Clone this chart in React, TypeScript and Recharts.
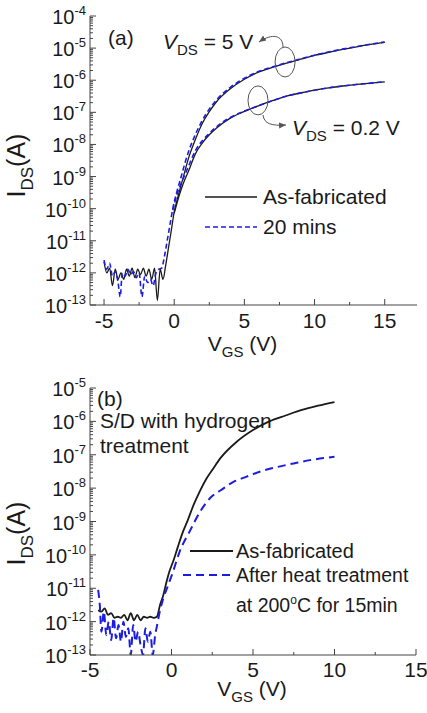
import { LineChart, Line, XAxis, YAxis, ReferenceDot } from 'recharts'

const FONT = '"Liberation Sans", Arial, Helvetica, sans-serif'
const INK = '#1a1a1a'
const FRAME = '#444'
const BLUE = '#1c1ce0'

// ---------- panel (a): V_DS = 5 V and 0.2 V, as-fabricated vs 20 mins ----------
const vgsFab5A = [
  -5, -4.8, -4.6, -4.4, -4.2, -4, -3.8, -3.6, -3.4, -3.2, -3, -2.8, -2.6, -2.4, -2.2, -2, -1.8, -1.6, -1.4, -1.2, -1, -0.8,
  -0.6, -0.4, -0.2, 0, 0.25, 0.5, 0.75, 1, 1.5, 2, 2.5, 3, 4, 5, 6, 7, 8, 9, 10, 11, 12, 13, 14, 15,
]
const idsFab5A = [
  2.2e-12, 1.0e-12, 1.4e-12, 4.0e-13, 1.3e-12, 6.3e-13, 1.0e-12, 6.3e-13, 1.3e-12, 7.9e-13, 1.4e-12, 7.1e-13, 1.3e-12,
  8.9e-13, 1.4e-12, 7.9e-13, 1.3e-12, 6.3e-13, 1.4e-12, 1.4e-13, 1.3e-12, 6.3e-13,
  1.8e-12, 6.3e-12, 2.2e-11, 7.9e-11, 2.2e-10, 5.6e-10, 1.4e-9, 3.5e-9, 1.4e-8, 4.5e-8, 1.05e-7, 2.1e-7, 5.4e-7, 1.07e-6,
  1.78e-6, 2.5e-6, 3.4e-6, 4.5e-6, 5.9e-6, 7.4e-6, 9.1e-6, 1.1e-5, 1.3e-5, 1.5e-5,
]
const vgsFab02A = [0, 0.25, 0.5, 0.75, 1, 1.5, 2, 2.5, 3, 4, 5, 6, 7, 8, 9, 10, 11, 12, 13, 14, 15]
const idsFab02A = [
  7.1e-11, 1.8e-10, 4.0e-10, 7.9e-10, 1.4e-9, 5.0e-9, 1.1e-8, 2.0e-8, 3.2e-8, 6.6e-8, 1.07e-7, 1.6e-7, 2.3e-7, 3.2e-7,
  4.0e-7, 4.9e-7, 5.8e-7, 6.6e-7, 7.4e-7, 8.1e-7, 8.9e-7,
]
const vgs20m5A = [
  -5, -4.8, -4.6, -4.4, -4.2, -4, -3.85, -3.7, -3.5, -3.3, -3.1, -2.9, -2.7, -2.5, -2.3, -2.1, -1.9, -1.7, -1.5, -1.3, -1.1,
  -0.9, -0.7, -0.5, -0.3, -0.1, 0.2, 0.5, 0.75, 1, 1.5, 2, 2.5, 3, 4, 5, 6, 7, 8, 9, 10, 11, 12, 13, 14, 15,
]
const ids20m5A = [
  2.5e-12, 1.3e-12, 2.0e-12, 7.9e-13, 1.1e-12, 5.0e-13, 1.8e-13, 1.0e-12, 7.9e-13, 1.3e-12, 8.9e-13, 1.1e-12, 7.1e-13,
  1.0e-12, 1.8e-13, 7.9e-13, 5.0e-13, 6.3e-13, 4.0e-13, 1.0e-12, 1.3e-12, 1.4e-12,
  3.2e-12, 1.0e-11, 3.2e-11, 1.0e-10, 3.5e-10, 1.0e-9, 2.5e-9, 5.6e-9, 2.0e-8, 5.6e-8, 1.26e-7, 2.4e-7, 6.0e-7, 1.15e-6,
  1.86e-6, 2.6e-6, 3.5e-6, 4.6e-6, 6.0e-6, 7.6e-6, 9.3e-6, 1.12e-5, 1.32e-5, 1.55e-5,
]
const vgs20m02A = [-0.1, 0.2, 0.5, 0.75, 1, 1.5, 2, 2.5, 3, 4, 5, 6, 7, 8, 9, 10, 11, 12, 13, 14, 15]
const ids20m02A = [
  8.9e-11, 2.8e-10, 6.3e-10, 1.1e-9, 2.0e-9, 6.3e-9, 1.3e-8, 2.2e-8, 3.5e-8, 6.9e-8, 1.1e-7, 1.6e-7, 2.3e-7, 3.2e-7,
  4.0e-7, 4.9e-7, 5.8e-7, 6.6e-7, 7.4e-7, 8.1e-7, 9.0e-7,
]

// ---------- panel (b): S/D with hydrogen treatment ----------
const vgsFabB = [
  -4.5, -4.3, -4.1, -3.9, -3.7, -3.5, -3.3, -3.1, -2.9, -2.7, -2.5, -2.3, -2.1, -1.9, -1.7, -1.5, -1.3, -1.1, -0.9,
  -0.7, -0.5, -0.3, -0.1, 0.1, 0.4, 0.7, 1, 1.35, 1.75, 2.15, 2.5, 3, 4, 5, 6, 7, 8, 9, 10,
]
const idsFabB = [
  2.2e-12, 2.0e-12, 2.5e-12, 1.6e-12, 1.8e-12, 1.3e-12, 1.4e-12, 1.3e-12, 1.6e-12, 1.1e-12, 1.8e-12, 1.1e-12, 1.6e-12,
  1.1e-12, 1.4e-12, 1.3e-12, 1.4e-12, 1.3e-12, 1.4e-12,
  3.2e-12, 6.3e-12, 1.6e-11, 3.5e-11, 6.3e-11, 1.8e-10, 4.9e-10, 1.1e-9, 3.1e-9, 8.3e-9, 1.95e-8, 3.5e-8, 7.9e-8, 2.45e-7,
  5.5e-7, 1.0e-6, 1.5e-6, 2.2e-6, 2.95e-6, 3.8e-6,
]
const vgsHeatB = [
  -4.5, -4.4, -4.3, -4.15, -4, -3.85, -3.7, -3.55, -3.4, -3.25, -3.1, -2.95, -2.8, -2.65, -2.5, -2.35, -2.2, -2.05, -1.9,
  -1.75, -1.6, -1.45, -1.3, -1.15, -1,
  -0.9, -0.7, -0.5, -0.2, 0.1, 0.5, 1.1, 1.75, 2.5, 3, 3.8, 4.5, 5.5, 6.5, 7.5, 8.5, 10,
]
const idsHeatB = [
  8.9e-12, 3.2e-12, 5.0e-13, 2.0e-12, 4.0e-13, 1.0e-12, 2.8e-13, 1.3e-12, 3.2e-13, 7.9e-13, 2.5e-13, 1.0e-12, 3.5e-13,
  6.3e-13, 1.0e-13, 7.9e-13, 2.5e-13, 5.0e-13, 2.0e-13, 1.0e-13, 6.3e-13, 2.5e-13, 5.0e-13, 1.0e-13, 4.0e-13,
  7.1e-13, 2.2e-12, 5.0e-12, 1.26e-11, 3.2e-11, 1.26e-10, 4.9e-10, 1.95e-9, 5.8e-9, 8.5e-9, 1.55e-8, 2.1e-8, 3.2e-8,
  4.3e-8, 5.5e-8, 6.9e-8, 8.7e-8,
]

// axis ticks
const xTicksA = [-5, -2.5, 0, 2.5, 5, 7.5, 10, 12.5, 15]
const xTicksB = [-5, -2.5, 0, 2.5, 5, 7.5, 10, 12.5, 15]
const decadesA = [1e-13, 1e-12, 1e-11, 1e-10, 1e-9, 1e-8, 1e-7, 1e-6, 1e-5, 1e-4]
const decadesB = [1e-13, 1e-12, 1e-11, 1e-10, 1e-9, 1e-8, 1e-7, 1e-6, 1e-5]

const withMinor = (dec: number[]) =>
  dec.flatMap((d, k) => (k === dec.length - 1 ? [d] : [1, 2, 3, 4, 5, 6, 7, 8, 9].map((m) => d * m)))

const rows = (v: number[], i: number[]) => v.map((x, k) => ({ v: x, i: i[k] }))

function LogTick(props: any) {
  const { x, y, payload } = props
  const e = Math.log10(payload.value)
  const major = Math.abs(e - Math.round(e)) < 1e-6
  return (
    <g>
      <line x1={x} x2={x + (major ? 6 : 3)} y1={y} y2={y} stroke={FRAME} />
      {major && (
        <text x={x - 4} y={y + 8} textAnchor="end" fontSize={20} fill={INK} fontFamily={FONT}>
          10
          <tspan dy={-9} fontSize={13}>
            {Math.round(e)}
          </tspan>
        </text>
      )}
    </g>
  )
}

const vTick = (off: number) => (props: any) => {
  const { x, y, payload } = props
  const major = payload.value % 5 === 0
  return (
    <g>
      <line x1={x} x2={x} y1={y} y2={y - (major ? 6 : 3)} stroke={FRAME} />
      {major && (
        <text x={x} y={y + off} textAnchor="middle" fontSize={21} fill={INK} fontFamily={FONT}>
          {payload.value}
        </text>
      )}
    </g>
  )
}

const xLabel = (dx: number, dy: number) => (p: any) => {
  const vb = p.viewBox
  return (
    <text x={vb.x + vb.width / 2 + dx} y={vb.y + dy} textAnchor="middle" fontSize={21} fill={INK} fontFamily={FONT}>
      V<tspan dy={6} fontSize={15}>GS</tspan>
      <tspan dy={-6}> (V)</tspan>
    </text>
  )
}

const yLabel = (dy: number) => (p: any) => {
  const vb = p.viewBox
  const cx = vb.x + 25
  const cy = vb.y + vb.height / 2 + dy
  return (
    <text transform={`translate(${cx},${cy}) rotate(-90)`} textAnchor="middle" fontSize={25} fill={INK} fontFamily={FONT}>
      I<tspan dy={8} fontSize={17}>DS</tspan>
      <tspan dy={-8}>(A)</tspan>
    </text>
  )
}

const ellipse = (rx: number, ry: number) => (p: any) => (
  <ellipse cx={p.cx} cy={p.cy} rx={rx} ry={ry} fill="none" stroke="#555" strokeWidth={1} />
)

const axisCommon = {
  tickLine: false,
  tickSize: 0,
  tickMargin: 0,
  interval: 0 as const,
  axisLine: { stroke: FRAME },
  allowDataOverflow: true,
}

function PanelA() {
  const dom: [number, number] = [-6, 17.3]
  return (
    <LineChart width={427} height={360} margin={{ top: 16, right: 10, left: 0, bottom: 0 }}>
      <XAxis dataKey="v" type="number" domain={dom} ticks={xTicksA} tick={vTick(23)} height={55} {...axisCommon}
        label={xLabel(-11, 46)} />
      <XAxis xAxisId="top" orientation="top" type="number" domain={dom} height={0} tick={false} {...axisCommon} />
      <YAxis type="number" scale="log" domain={[1e-13, 1e-4]} ticks={withMinor(decadesA)} tick={<LogTick />} width={90}
        {...axisCommon} label={yLabel(5)} />
      <YAxis yAxisId="right" orientation="right" width={0} tick={false} {...axisCommon} />
      <Line data={rows(vgsFab5A, idsFab5A)} dataKey="i" type="monotone" stroke={INK} strokeWidth={1.3} dot={false} isAnimationActive={false} />
      <Line data={rows(vgsFab02A, idsFab02A)} dataKey="i" type="monotone" stroke={INK} strokeWidth={1.3} dot={false} isAnimationActive={false} />
      <Line data={rows(vgs20m5A, ids20m5A)} dataKey="i" type="monotone" stroke={BLUE} strokeWidth={1.6} strokeDasharray="5 3" dot={false} isAnimationActive={false} />
      <Line data={rows(vgs20m02A, ids20m02A)} dataKey="i" type="monotone" stroke={BLUE} strokeWidth={1.6} strokeDasharray="5 3" dot={false} isAnimationActive={false} />
      <ReferenceDot x={7.9} y={3.7e-6} r={10} shape={ellipse(10, 15)} />
      <ReferenceDot x={5.97} y={2.35e-7} r={10} shape={ellipse(10, 14.5)} />
    </LineChart>
  )
}

function PanelB() {
  const dom: [number, number] = [-5, 15]
  return (
    <LineChart width={427} height={353} margin={{ top: 28, right: 11, left: 0, bottom: 0 }}>
      <XAxis dataKey="v" type="number" domain={dom} ticks={xTicksB} tick={vTick(22)} height={58} {...axisCommon}
        label={xLabel(-1, 41)} />
      <XAxis xAxisId="top" orientation="top" type="number" domain={dom} height={0} tick={false} {...axisCommon} />
      <YAxis type="number" scale="log" domain={[1e-13, 1e-5]} ticks={withMinor(decadesB)} tick={<LogTick />} width={90}
        {...axisCommon} label={yLabel(12)} />
      <YAxis yAxisId="right" orientation="right" width={0} tick={false} {...axisCommon} />
      <Line data={rows(vgsFabB, idsFabB)} dataKey="i" type="monotone" stroke={INK} strokeWidth={1.8} dot={false} isAnimationActive={false} />
      <Line data={rows(vgsHeatB, idsHeatB)} dataKey="i" type="monotone" stroke={BLUE} strokeWidth={2} strokeDasharray="8 5" dot={false} isAnimationActive={false} />
    </LineChart>
  )
}

function Notes() {
  const t = { fontFamily: FONT, fill: INK, fontSize: 21 }
  return (
    <svg width={427} height={713} style={{ position: 'absolute', left: 0, top: 0, pointerEvents: 'none' }}>
      <defs>
        <marker id="ah" markerWidth="8" markerHeight="8" refX="7" refY="4" orient="auto">
          <path d="M0,1 L7,4 L0,7 Z" fill="#555" />
        </marker>
      </defs>
      {/* panel (a) */}
      <text x={108} y={45} {...t}>(a)</text>
      <text x={163} y={49} {...t}>
        <tspan fontStyle="italic">V</tspan>
        <tspan dy={6} fontSize={15}>DS</tspan>
        <tspan dy={-6}> = 5 V</tspan>
      </text>
      <path d="M283 47 C283 35, 272 33, 259 42" fill="none" stroke="#555" markerEnd="url(#ah)" />
      <path d="M263 115 C264 124, 272 126, 286 125" fill="none" stroke="#555" markerEnd="url(#ah)" />
      <text x={292} y={135} {...t}>
        <tspan fontStyle="italic">V</tspan>
        <tspan dy={6} fontSize={15}>DS</tspan>
        <tspan dy={-6}> = 0.2 V</tspan>
      </text>
      <line x1={205} x2={257} y1={197} y2={197} stroke={INK} strokeWidth={1.3} />
      <text x={263} y={204} {...t}>As-fabricated</text>
      <line x1={205} x2={257} y1={227} y2={227} stroke={BLUE} strokeWidth={1.6} strokeDasharray="5 3" />
      <text x={263} y={234} {...t}>20 mins</text>

      {/* panel (b) */}
      <text x={97} y={406} {...t}>(b)</text>
      <text x={100} y={428} {...t}>S/D with hydrogen</text>
      <text x={100} y={453} {...t}>treatment</text>
      <line x1={190} x2={233} y1={551} y2={551} stroke={INK} strokeWidth={1.8} />
      <text x={236} y={558} {...t} fontSize={20}>As-fabricated</text>
      <line x1={183} x2={233} y1={575} y2={575} stroke={BLUE} strokeWidth={2} strokeDasharray="8 5" />
      <text x={236} y={582} {...t} fontSize={19.5}>After heat treatment</text>
      <text x={236} y={612} {...t} fontSize={19.5}>
        at 200<tspan dy={-8} fontSize={12}>o</tspan>
        <tspan dy={8}>C for 15min</tspan>
      </text>
    </svg>
  )
}

export default function App() {
  return (
    <div style={{ position: 'absolute', left: 0, top: 0, width: 427, height: 713, background: '#fff' }}>
      <div style={{ position: 'absolute', left: 0, top: 0 }}>
        <PanelA />
      </div>
      <div style={{ position: 'absolute', left: 0, top: 360 }}>
        <PanelB />
      </div>
      <Notes />
    </div>
  )
}
